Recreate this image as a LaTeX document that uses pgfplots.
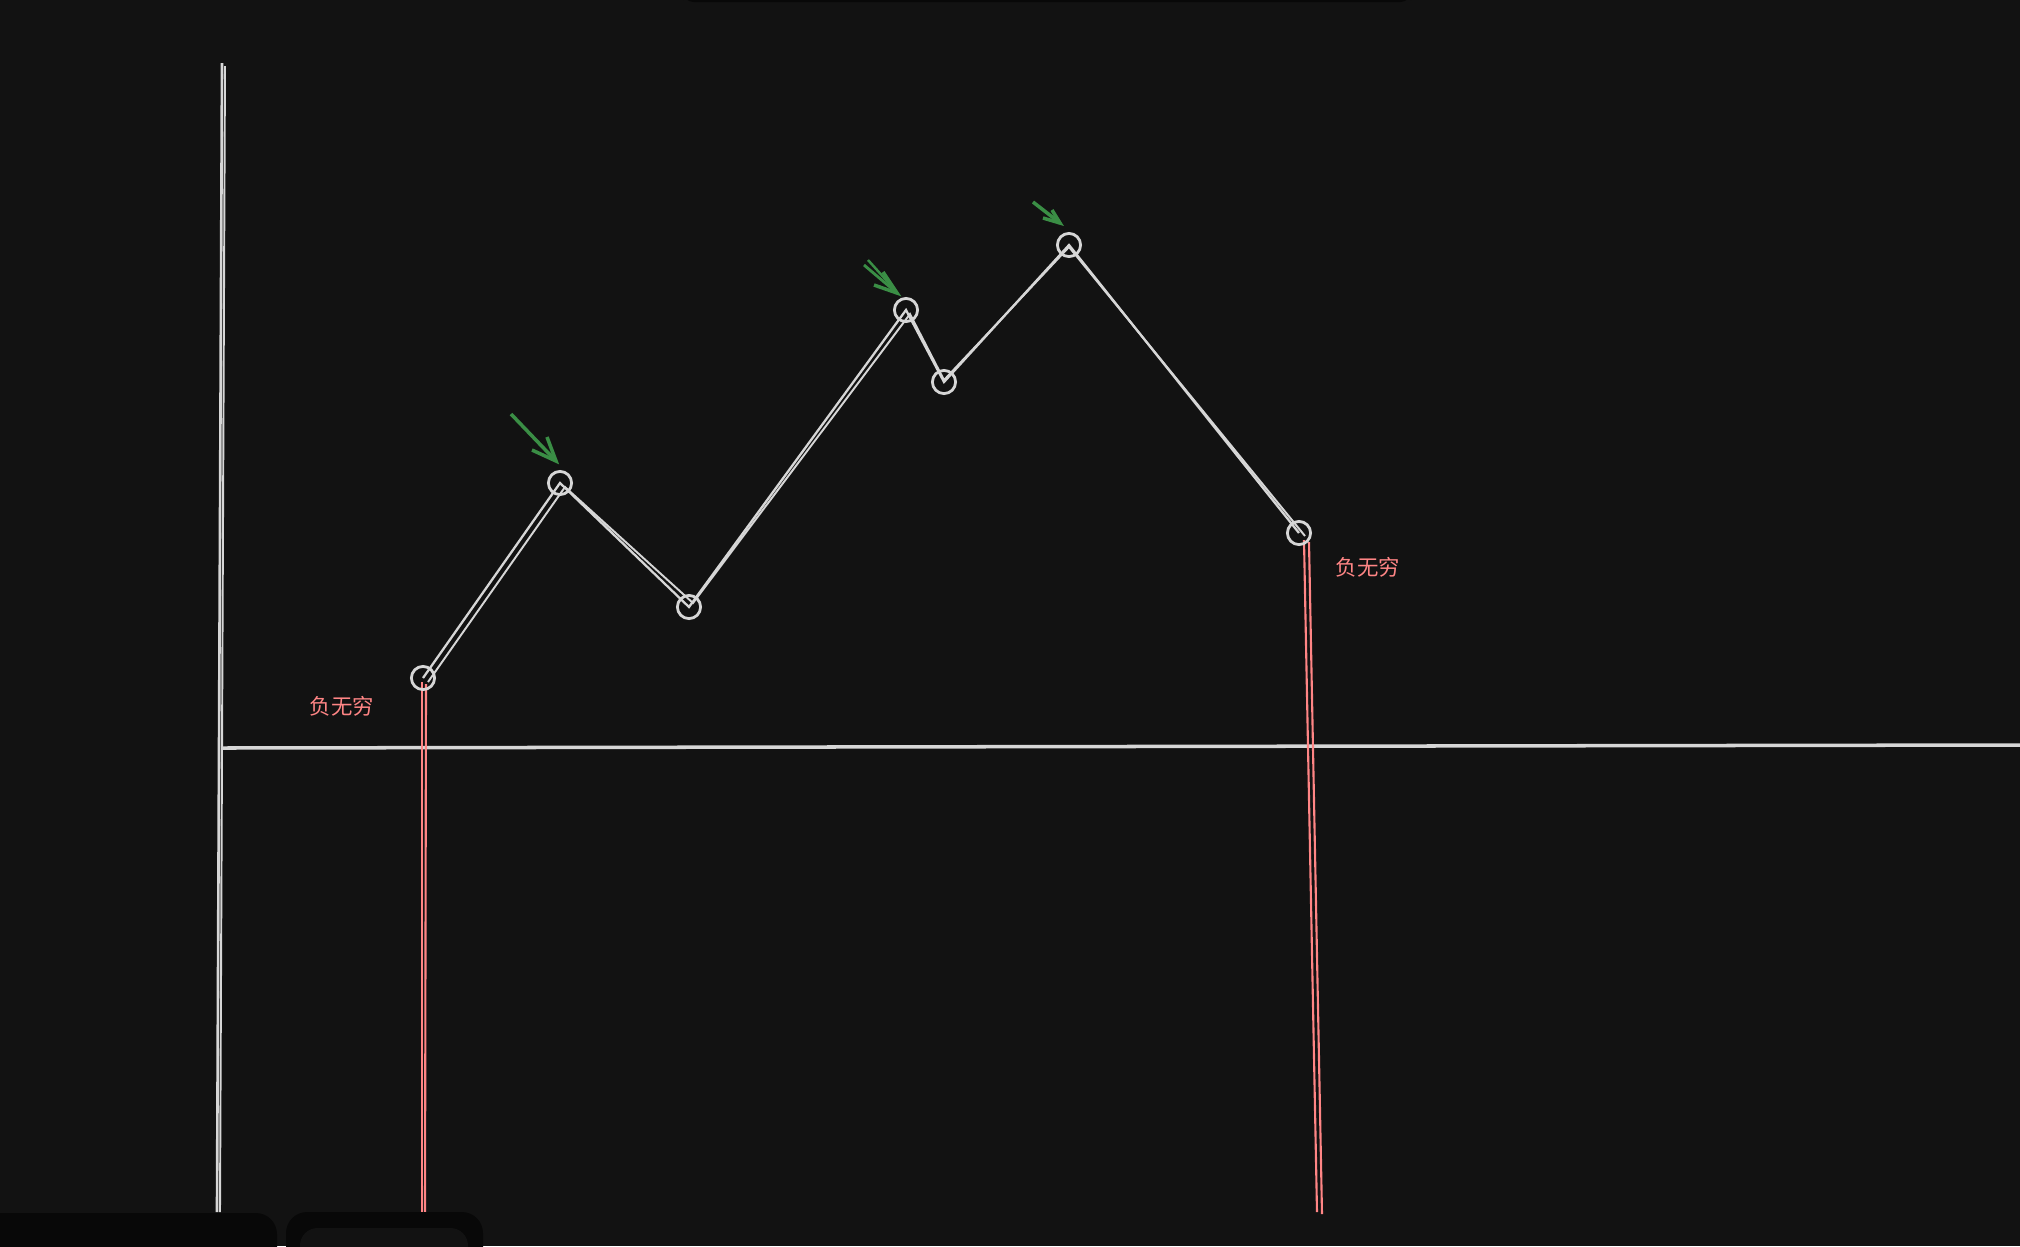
\documentclass[border=0pt]{standalone}
\usepackage{pgfplots}
\pgfplotsset{compat=1.18}
\usepackage{fontspec}
\newfontfamily\cjk{Noto Sans CJK SC}
\definecolor{bg}{HTML}{121212}
\definecolor{panel}{HTML}{080808}
\definecolor{ink}{HTML}{D6D6D6}
\definecolor{redink}{HTML}{FF8585}
\definecolor{greenink}{HTML}{3A8E45}
\begin{document}
\begin{tikzpicture}
\begin{axis}[
  width=20.2cm, height=12.46cm, scale only axis,
  xmin=0, xmax=2020, ymin=0, ymax=1246, y dir=reverse,
  hide axis, clip=true,
]
\fill[bg] (axis cs:0,0) rectangle (axis cs:2020,1246);
% top bar
\fill[panel, rounded corners=3pt] (axis cs:683,-10) rectangle (axis cs:1411,2);
% axes (sketchy double strokes)
\addplot[ink, line width=0.75pt] coordinates {(222,63) (217,1212)};
\addplot[ink, line width=0.55pt] coordinates {(225,66) (220,1212)};
\addplot[ink, line width=1.0pt] coordinates {(221,748) (2020,745)};
% red lines (negative infinity)
\addplot[redink, line width=0.6pt] coordinates {(422,682) (422,1212)};
\addplot[redink, line width=0.6pt] coordinates {(426,684) (425,1212)};
\addplot[redink, line width=0.6pt] coordinates {(1304,540) (1317,1212)};
\addplot[redink, line width=0.6pt] coordinates {(1309,542) (1322,1214)};
% main polyline
\addplot[ink, line width=0.65pt, mark=o, mark size=3.3pt,
  mark options={line width=0.8pt, ink}] coordinates {
  (423,678) (560,483) (689,607) (906,310) (944,382) (1069,245) (1299,533)};
\addplot[ink, line width=0.55pt] coordinates {
  (428,682) (565,487) (693,603) (910,314) (944,380) (1069,247) (1305,536)};
% labels
\node[text=redink, font=\cjk\fontsize{6.1pt}{7pt}\selectfont] at (axis cs:342,706) {负无穷};
\node[text=redink, font=\cjk\fontsize{6.1pt}{7pt}\selectfont] at (axis cs:1368,567) {负无穷};
% green arrows
\addplot[greenink, line width=1.0pt] coordinates {(511,414) (556,461)};
\addplot[greenink, line width=1.0pt] coordinates {(532,450) (556,461) (547,437)};
\addplot[greenink, line width=0.8pt] coordinates {(864,265) (897,293)};
\addplot[greenink, line width=0.7pt] coordinates {(868,260) (895,290)};
\addplot[greenink, line width=1.0pt] coordinates {(874,285) (897,293) (883,272)};
\addplot[greenink, line width=1.0pt] coordinates {(1033,202) (1060,223)};
\addplot[greenink, line width=1.0pt] coordinates {(1043,218) (1060,223) (1052,210)};
% bottom panels
\fill[panel, rounded corners=6pt] (axis cs:-20,1213) rectangle (axis cs:277,1270);
\fill[panel, rounded corners=6pt] (axis cs:286,1212) rectangle (axis cs:483,1270);
\fill[bg, rounded corners=5pt] (axis cs:300,1228) rectangle (axis cs:468,1270);
\end{axis}
\end{tikzpicture}
\end{document}
